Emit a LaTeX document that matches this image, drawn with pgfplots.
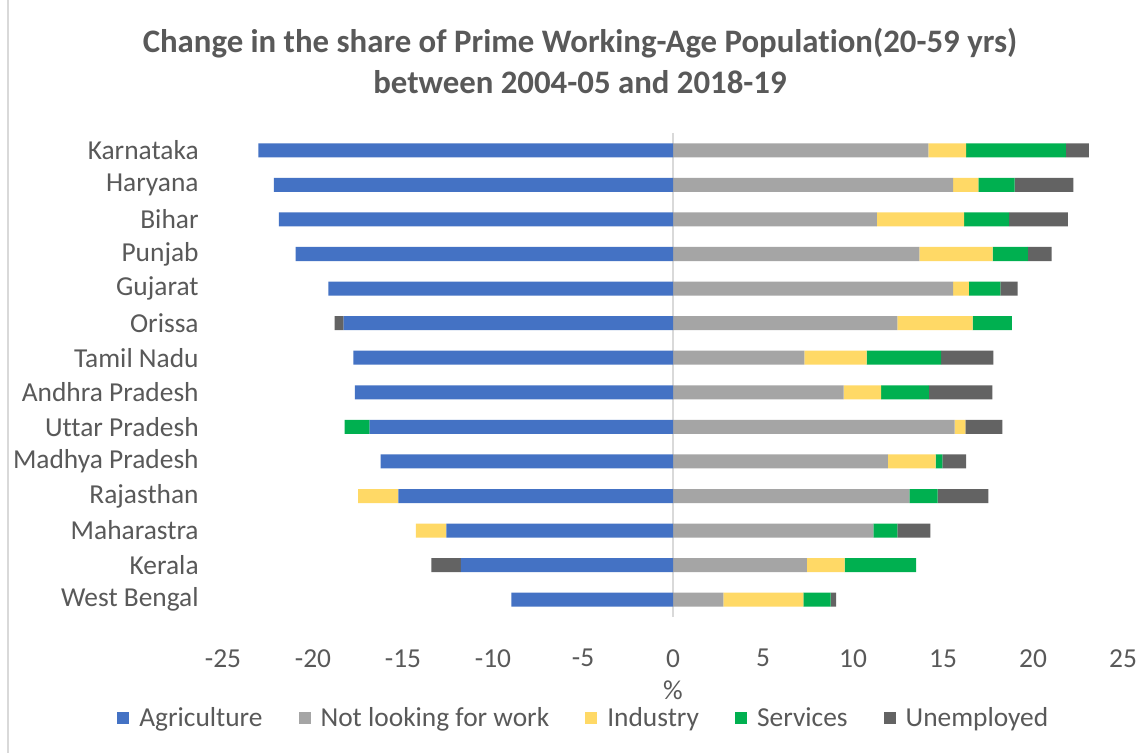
\documentclass[border=0pt]{standalone}
\usepackage{fontspec}
\setmainfont{Carlito}[Ligatures=NoCommon]
\usepackage{pgfplots}
\usepackage{pgfplotstable}
\pgfplotsset{compat=1.18}
\definecolor{agri}{HTML}{4472C4}
\definecolor{nlw}{HTML}{A5A5A5}
\definecolor{ind}{HTML}{FFD966}
\definecolor{serv}{HTML}{00B050}
\definecolor{unemp}{HTML}{636363}
\definecolor{txt}{HTML}{595959}
\definecolor{zeroc}{HTML}{D9D9D9}

\pgfplotstableread{
idx agri nl ind serv unemp
0 -23.04 14.18 2.11 5.54 1.27
1 -22.18 15.56 1.40 2.02 3.26
2 -21.90 11.32 4.85 2.50 3.27
3 -20.96 13.68 4.08 1.95 1.33
4 -19.15 15.56 0.87 1.75 0.97
5 -18.30 12.46 4.19 2.18 -0.50
6 -17.76 7.30 3.46 4.13 2.91
7 -17.68 9.48 2.08 2.66 3.52
8 -16.85 15.65 0.59 -1.39 2.06
9 -16.24 11.93 2.66 0.37 1.32
10 -15.26 13.13 -2.24 1.57 2.82
11 -12.59 11.13 -1.69 1.33 1.84
12 -11.79 7.43 2.11 3.96 -1.64
13 -8.98 2.80 4.44 1.52 0.30
}\datatable

\begin{document}
\begin{tikzpicture}
\useasboundingbox (0,0) rectangle (571.5pt,376.5pt);
\fill[white] (0,0) rectangle (571.5pt,376.5pt);
\draw[line width=0.75pt, color=zeroc] (4pt,0) -- (4pt,376.5pt);
\begin{axis}[
  at={(111.5pt,68pt)}, anchor=south west,
  scale only axis, width=450pt, height=242pt,
  xbar stacked, stack negative=separate,
  bar width=7pt,
  xmin=-25, xmax=25, ymin=-0.5, ymax=13.5, y dir=reverse,
  axis lines*=left, axis line style={draw=none},
  tick style={draw=none}, major tick length=0pt,
  xtick={-25,-20,...,25},
  xticklabels={-25,-20,-15,-10,-5,0,5,10,15,20,25},
  ytick={0,...,13},
  yticklabels={Karnataka,Haryana,Bihar,Punjab,Gujarat,Orissa,Tamil Nadu,Andhra Pradesh,Uttar Pradesh,Madhya Pradesh,Rajasthan,Maharastra,Kerala,West Bengal},
  ticklabel style={font=\fontsize{13.7}{16}\selectfont, text=txt},
  yticklabel style={inner sep=0pt, xshift=-12pt, anchor=east},
  xticklabel style={inner sep=0pt, yshift=-16pt, anchor=north},
  extra x ticks={0}, extra x tick labels={},
  extra x tick style={grid=major, major grid style={zeroc, line width=1pt}},
  legend columns=5,
  legend style={at={(axis description cs:0.402,-0.209)}, anchor=center, draw=none, fill=none,
    font=\fontsize{13.7}{16}\selectfont, text=txt,
    /tikz/every even column/.append style={column sep=16pt}},
  legend image code/.code={\fill[#1] (0pt,-3pt) rectangle (6pt,3pt); \path (9pt,0pt);},
]
\addplot+[fill=agri, draw=none] table[x=agri, y=idx]{\datatable};
\addplot+[fill=nlw, draw=none] table[x=nl, y=idx]{\datatable};
\addplot+[fill=ind, draw=none] table[x=ind, y=idx]{\datatable};
\addplot+[fill=serv, draw=none] table[x=serv, y=idx]{\datatable};
\addplot+[fill=unemp, draw=none] table[x=unemp, y=idx]{\datatable};
\legend{Agriculture, Not looking for work, Industry, Services, Unemployed}
\end{axis}
\node[anchor=base, text=txt, font=\bfseries\fontsize{16.4}{19}\selectfont] at (290pt,350pt) {Change in the share of Prime Working-Age Population(20-59 yrs)};
\node[anchor=base, text=txt, font=\bfseries\fontsize{16.4}{19}\selectfont] at (290pt,329.5pt) {between 2004-05 and 2018-19};
\node[anchor=center, text=txt, font=\fontsize{13.7}{16}\selectfont] at (336.5pt,31.5pt) {\%};
\end{tikzpicture}
\end{document}
